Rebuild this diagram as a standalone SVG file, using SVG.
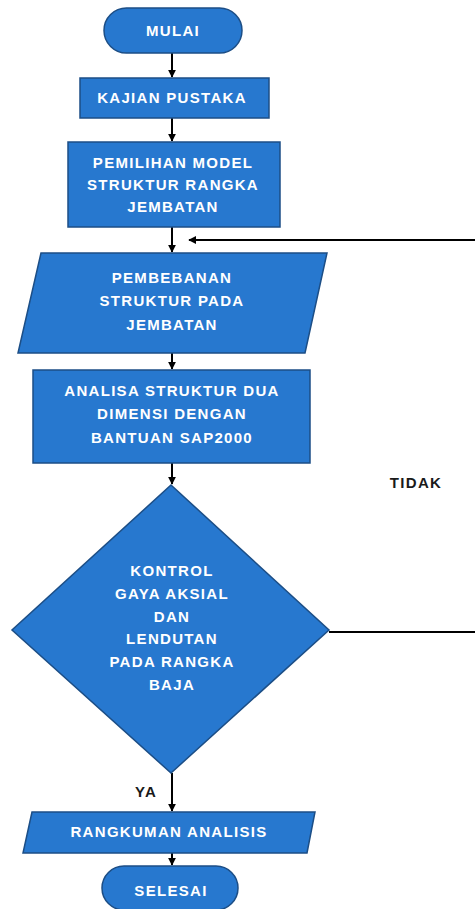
<svg xmlns="http://www.w3.org/2000/svg" width="475" height="909" viewBox="0 0 475 909">
<style>
.n{fill:#2778CF;stroke:#1C4E86;stroke-width:1.5}
.t{font-family:"Liberation Sans",Arial,sans-serif;font-weight:bold;font-size:15px;fill:#ffffff;text-anchor:middle;letter-spacing:1.3px}
.l{font-family:"Liberation Sans",Arial,sans-serif;font-weight:bold;font-size:15px;fill:#1a1a1a;text-anchor:middle;letter-spacing:1.3px}
.c{fill:none;stroke:#000;stroke-width:2}
</style>
<defs>
<marker id="a" viewBox="0 0 10 10" refX="9" refY="5" markerWidth="4" markerHeight="4" orient="auto" markerUnits="strokeWidth">
<path d="M0,0 L10,5 L0,10 z" fill="#000"/>
</marker>
</defs>
<rect width="475" height="909" fill="#ffffff"/>
<g id="connectors">
<line class="c" x1="172" y1="53" x2="172" y2="77" marker-end="url(#a)"/>
<line class="c" x1="172" y1="118" x2="172" y2="141" marker-end="url(#a)"/>
<line class="c" x1="172" y1="227" x2="172" y2="252" marker-end="url(#a)"/>
<line class="c" x1="172" y1="353" x2="172" y2="369" marker-end="url(#a)"/>
<line class="c" x1="172" y1="463" x2="172" y2="484" marker-end="url(#a)"/>
<line class="c" x1="172" y1="773" x2="172" y2="811" marker-end="url(#a)"/>
<line class="c" x1="172" y1="853" x2="172" y2="865" marker-end="url(#a)"/>
<polyline class="c" points="329,632 480,632 480,240 189,240" marker-end="url(#a)"/>
<text class="l" x="416" y="488">TIDAK</text>
<text class="l" x="146" y="797">YA</text>
</g>
<g id="mulai">
<rect class="n" x="104" y="8" width="138" height="45" rx="22.5"/>
<text class="t" x="173" y="36">MULAI</text>
</g>
<g id="kajian">
<rect class="n" x="80" y="78" width="189" height="40"/>
<text class="t" x="172" y="103">KAJIAN PUSTAKA</text>
</g>
<g id="pemilihan">
<rect class="n" x="68" y="142" width="212" height="85"/>
<text class="t" x="173" y="168">PEMILIHAN MODEL</text>
<text class="t" x="173" y="190">STRUKTUR RANGKA</text>
<text class="t" x="173" y="212">JEMBATAN</text>
</g>
<g id="pembebanan">
<polygon class="n" points="41,253 327,253 305,353 18,353"/>
<text class="t" x="172" y="283">PEMBEBANAN</text>
<text class="t" x="172" y="306">STRUKTUR PADA</text>
<text class="t" x="172" y="330">JEMBATAN</text>
</g>
<g id="analisa">
<rect class="n" x="33" y="370" width="277" height="93"/>
<text class="t" x="172" y="396">ANALISA STRUKTUR DUA</text>
<text class="t" x="172" y="419">DIMENSI DENGAN</text>
<text class="t" x="172" y="443">BANTUAN SAP2000</text>
</g>
<g id="kontrol">
<polygon class="n" points="171,485 329,630 171,773 12,630"/>
<text class="t" x="172" y="576">KONTROL</text>
<text class="t" x="172" y="599">GAYA AKSIAL</text>
<text class="t" x="172" y="622">DAN</text>
<text class="t" x="172" y="644">LENDUTAN</text>
<text class="t" x="172" y="667">PADA RANGKA</text>
<text class="t" x="172" y="690">BAJA</text>
</g>
<g id="rangkuman">
<polygon class="n" points="32,812 315,812 307,853 23,853"/>
<text class="t" x="169" y="837">RANGKUMAN ANALISIS</text>
</g>
<g id="selesai">
<rect class="n" x="102" y="866" width="136" height="44" rx="22"/>
<text class="t" x="171" y="896">SELESAI</text>
</g>
</svg>
